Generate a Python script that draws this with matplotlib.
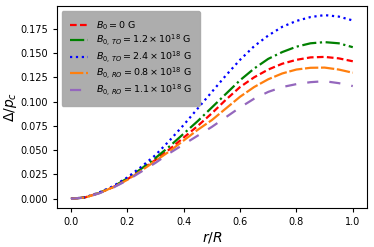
import numpy as np
import matplotlib
matplotlib.use("Agg")
import matplotlib.pyplot as plt

# radius grid and pressure-anisotropy curves
r = [0.0, 0.05, 0.1, 0.15, 0.2, 0.25, 0.3, 0.35, 0.4, 0.45, 0.5,
     0.55, 0.6, 0.65, 0.7, 0.75, 0.8, 0.85, 0.9, 0.95, 1.0]

b0 = [0.0, 0.0014, 0.006, 0.012, 0.020, 0.030, 0.040, 0.051, 0.063, 0.075, 0.088,
      0.102, 0.115, 0.125, 0.133, 0.139, 0.1430, 0.1455, 0.1460, 0.1445, 0.1415]
to_12 = [0.0, 0.0014, 0.006, 0.0125, 0.021, 0.031, 0.042, 0.054, 0.067, 0.080, 0.094,
         0.108, 0.122, 0.134, 0.144, 0.151, 0.1565, 0.160, 0.1612, 0.160, 0.156]
to_24 = [0.0, 0.0015, 0.0065, 0.013, 0.022, 0.033, 0.045, 0.060, 0.076, 0.093, 0.110,
         0.127, 0.143, 0.157, 0.168, 0.177, 0.183, 0.187, 0.189, 0.1875, 0.1835]
ro_08 = [0.0, 0.0013, 0.0058, 0.012, 0.0195, 0.029, 0.039, 0.049, 0.060, 0.071, 0.081,
         0.093, 0.105, 0.115, 0.123, 0.129, 0.133, 0.1348, 0.135, 0.133, 0.1297]
ro_11 = [0.0, 0.0013, 0.0056, 0.0115, 0.019, 0.028, 0.037, 0.047, 0.056, 0.065, 0.074,
         0.084, 0.094, 0.103, 0.110, 0.115, 0.118, 0.120, 0.121, 0.119, 0.116]

labels = [r"$B_0 = 0$ G",
          r"$B_{0,\,TO} = 1.2 \times 10^{18}$ G",
          r"$B_{0,\,TO} = 2.4 \times 10^{18}$ G",
          r"$B_{0,\,RO} = 0.8 \times 10^{18}$ G",
          r"$B_{0,\,RO} = 1.1 \times 10^{18}$ G"]

fig, ax = plt.subplots(figsize=(3.74, 2.47), dpi=100)
fig.subplots_adjust(left=0.152, right=0.981, top=0.976, bottom=0.158)

lw = 1.6
ax.plot(r, b0, color="red", linestyle=(0, (3, 1.5)), lw=lw, label=labels[0])
ax.plot(r, to_12, color="green", linestyle="-.", lw=lw, label=labels[1])
ax.plot(r, to_24, color="blue", linestyle=":", lw=lw, label=labels[2])
ax.plot(r, ro_08, color="tab:orange", linestyle=(0, (6, 1.2)), lw=lw, label=labels[3])
ax.plot(r, ro_11, color="tab:purple", linestyle=(0, (5, 5)), lw=lw, label=labels[4])

ax.set_xlabel(r"$r/R$", fontsize=10, labelpad=2)
ax.set_ylabel(r"$\Delta/p_c$", fontsize=10, labelpad=1)
ax.set_yticks([0.0, 0.025, 0.05, 0.075, 0.1, 0.125, 0.15, 0.175])
ax.set_xticks([0.0, 0.2, 0.4, 0.6, 0.8, 1.0])
ax.tick_params(labelsize=7, length=3)

leg = ax.legend(loc="upper left", fontsize=6.8, facecolor="#a9a9a9", edgecolor="#a9a9a9",
                framealpha=0.95, handlelength=1.9, handletextpad=0.8,
                labelspacing=0.12, borderpad=0.9, borderaxespad=0.5)

fig.savefig("out.png", dpi=100)
